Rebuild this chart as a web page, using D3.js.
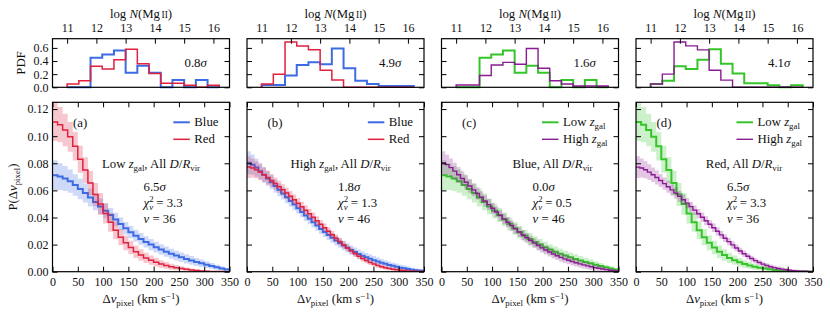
<!DOCTYPE html>
<html>
<head>
<meta charset="utf-8">
<script src="https://cdn.jsdelivr.net/npm/d3@7"></script>
<style>
  body { margin: 0; background: #fff; }
  text { font-family: 'Liberation Serif', 'DejaVu Serif', serif; font-size: 12.8px; fill: #111; }
  .tick text { font-size: 12px; }
</style>
</head>
<body>
<div class="container"></div>
<script>
/* log N(MgII) histograms (top row), bin edges + PDF values */
var logNEdges = [11.0, 11.4, 11.8, 12.2, 12.6, 13.0, 13.4, 13.8, 14.2, 14.6, 15.0, 15.4, 15.8, 16.2];
var pdfBlueLow = [0, 0, 0.45, 0.50, 0.56, 0.22, 0.33, 0.22, 0, 0.11, 0, 0.11, 0];
var pdfRedLow = [0.05, 0.10, 0.32, 0.28, 0.42, 0.58, 0.36, 0.21, 0.06, 0.06, 0.03, 0, 0.03];
var pdfBlueHigh = [0.035, 0.035, 0.18, 0.34, 0.38, 0.35, 0.59, 0.29, 0.10, 0.05, 0.02, 0.02, 0.02];
var pdfRedHigh = [0.05, 0.20, 0.69, 0.63, 0.57, 0.26, 0.11, 0, 0, 0, 0, 0, 0];

/* P(dv_pixel) (bottom row). low z: 10 km/s bins, high z: 7.5 km/s bins */
var binLow = 10, binHigh = 7.5;
var velBlueLow = [0.0712, 0.0703, 0.0688, 0.0668, 0.0640, 0.0610, 0.0580, 0.0548, 0.0515, 0.0482, 0.0450, 0.0418, 0.0385, 0.0352, 0.0320, 0.0292, 0.0266, 0.0242, 0.0220, 0.0200, 0.0181, 0.0164, 0.0148, 0.0133, 0.0119, 0.0106, 0.0094, 0.0083, 0.0072, 0.0062, 0.0052, 0.0042, 0.0033, 0.0024, 0.0016];
var errBlueLow = [0.0110, 0.0100, 0.0092, 0.0086, 0.0080, 0.0075, 0.0070, 0.0066, 0.0062, 0.0058, 0.0055, 0.0052, 0.0050, 0.0048, 0.0046, 0.0045, 0.0044, 0.0043, 0.0042, 0.0041, 0.0040, 0.0039, 0.0038, 0.0037, 0.0036, 0.0035, 0.0034, 0.0032, 0.0030, 0.0028, 0.0025, 0.0022, 0.0019, 0.0016, 0.0012];
var velRedLow = [0.1105, 0.1085, 0.1045, 0.0995, 0.0925, 0.0830, 0.0750, 0.0655, 0.0570, 0.0500, 0.0430, 0.0365, 0.0305, 0.0255, 0.0213, 0.0178, 0.0148, 0.0123, 0.0102, 0.0085, 0.0070, 0.0057, 0.0046, 0.0037, 0.0030, 0.0024, 0.0018, 0.0013, 0.0009, 0.0006, 0.0004, 0.0002, 0.0001, 0.0001, 0.0000];
var errRedLow = [0.0140, 0.0130, 0.0120, 0.0110, 0.0105, 0.0100, 0.0095, 0.0090, 0.0085, 0.0080, 0.0075, 0.0070, 0.0065, 0.0060, 0.0055, 0.0050, 0.0046, 0.0042, 0.0038, 0.0034, 0.0031, 0.0028, 0.0025, 0.0022, 0.0019, 0.0016, 0.0013, 0.0011, 0.0009, 0.0007, 0.0005, 0.0004, 0.0003, 0.0002, 0.0001];
var velBlueHigh = [0.0804, 0.0790, 0.0768, 0.0742, 0.0715, 0.0688, 0.0660, 0.0632, 0.0604, 0.0577, 0.0550, 0.0522, 0.0495, 0.0468, 0.0441, 0.0415, 0.0390, 0.0365, 0.0340, 0.0316, 0.0293, 0.0271, 0.0250, 0.0230, 0.0211, 0.0193, 0.0176, 0.0160, 0.0145, 0.0131, 0.0118, 0.0106, 0.0095, 0.0085, 0.0075, 0.0066, 0.0058, 0.0050, 0.0043, 0.0036, 0.0030, 0.0025, 0.0020, 0.0015, 0.0011, 0.0008, 0.0005];
var errBlueHigh = [0.0085, 0.0075, 0.0068, 0.0062, 0.0058, 0.0054, 0.0051, 0.0049, 0.0047, 0.0045, 0.0044, 0.0043, 0.0042, 0.0041, 0.0040, 0.0040, 0.0039, 0.0039, 0.0038, 0.0038, 0.0037, 0.0037, 0.0036, 0.0036, 0.0035, 0.0035, 0.0034, 0.0034, 0.0033, 0.0033, 0.0032, 0.0032, 0.0031, 0.0030, 0.0029, 0.0028, 0.0027, 0.0026, 0.0025, 0.0024, 0.0022, 0.0020, 0.0018, 0.0016, 0.0014, 0.0012, 0.0010];
var velRedHigh = [0.0772, 0.0765, 0.0752, 0.0735, 0.0715, 0.0695, 0.0673, 0.0650, 0.0627, 0.0604, 0.0580, 0.0556, 0.0531, 0.0506, 0.0480, 0.0454, 0.0428, 0.0402, 0.0376, 0.0350, 0.0324, 0.0298, 0.0272, 0.0247, 0.0222, 0.0198, 0.0175, 0.0153, 0.0133, 0.0114, 0.0097, 0.0082, 0.0068, 0.0056, 0.0046, 0.0037, 0.0030, 0.0024, 0.0019, 0.0015, 0.0011, 0.0008, 0.0006, 0.0004, 0.0003, 0.0002, 0.0001];
var errRedHigh = [0.0080, 0.0070, 0.0063, 0.0058, 0.0054, 0.0051, 0.0048, 0.0046, 0.0044, 0.0042, 0.0041, 0.0040, 0.0039, 0.0038, 0.0037, 0.0036, 0.0035, 0.0034, 0.0033, 0.0032, 0.0031, 0.0030, 0.0029, 0.0028, 0.0027, 0.0026, 0.0025, 0.0024, 0.0023, 0.0022, 0.0021, 0.0020, 0.0019, 0.0018, 0.0017, 0.0016, 0.0015, 0.0014, 0.0013, 0.0012, 0.0011, 0.0010, 0.0009, 0.0008, 0.0007, 0.0006, 0.0005];

/* tick values */
var logNTicks = [11, 12, 13, 14, 15, 16];
var pdfTicks = [0.0, 0.2, 0.4, 0.6];
var velTicks = [0, 50, 100, 150, 200, 250, 300, 350];
var probTicks = [0.00, 0.02, 0.04, 0.06, 0.08, 0.10, 0.12];

/* per-panel annotations */
var panelTags = ['(a)', '(b)', '(c)', '(d)'];
var histSigmas = ['0.8', '4.9', '1.6', '4.1'];
var ksSigmas = ['6.5', '1.8', '0.0', '6.5'];
var chi2Values = ['3.3', '1.3', '0.5', '3.3'];
var nuValues = ['36', '46', '46', '36'];

var colBlue = '#3d6be4', colRed = '#e0213f', colGreen = '#35c52b', colPurple = '#8a1b92';

var zgal = [['z', 'i'], ['gal', 'sub']];
var dRvir = [['D', 'i'], ['/'], ['R', 'i'], ['vir', 'sub']];

var panels = [
  { pdfs: [pdfBlueLow, pdfRedLow],
    curves: [[velBlueLow, errBlueLow, binLow], [velRedLow, errRedLow, binLow]],
    cols: [colBlue, colRed], widths: [2, 1.5],
    legend: [[['Blue']], [['Red']]],
    head: [['Low ']].concat(zgal, [[', All ']], dRvir), headX: 98.5 },
  { pdfs: [pdfBlueHigh, pdfRedHigh],
    curves: [[velBlueHigh, errBlueHigh, binHigh], [velRedHigh, errRedHigh, binHigh]],
    cols: [colBlue, colRed], widths: [2, 1.5],
    legend: [[['Blue']], [['Red']]],
    head: [['High ']].concat(zgal, [[', All ']], dRvir), headX: 93.5 },
  { pdfs: [pdfBlueLow, pdfBlueHigh],
    curves: [[velBlueLow, errBlueLow, binLow], [velBlueHigh, errBlueHigh, binHigh]],
    cols: [colGreen, colPurple], widths: [2, 1.4],
    legend: [[['Low ']].concat(zgal), [['High ']].concat(zgal)],
    head: [['Blue, All ']].concat(dRvir), headX: 111 },
  { pdfs: [pdfRedLow, pdfRedHigh],
    curves: [[velRedLow, errRedLow, binLow], [velRedHigh, errRedHigh, binHigh]],
    cols: [colGreen, colPurple], widths: [2, 1.4],
    legend: [[['Low ']].concat(zgal), [['High ']].concat(zgal)],
    head: [['Red, All ']].concat(dRvir), headX: 108 }
];

/* layout */
var w = 830, h = 314;
var left0 = 52.5, panelStep = 194.5, panelW = 177;
var topY0 = 38.7, topY1 = 87.3;
var botY0 = 102.3, botY1 = 271.7;

var svg = d3.select('.container')
  .append('svg')
  .attr('width', w)
  .attr('height', h);

/* text with italic / sub / sup pieces */
function rich(t, parts) {
  var shift = 0;
  parts.forEach(function(p) {
    var s = t.append('tspan').text(p[0]);
    var st = p[1] || '';
    var target = 0;
    if (st.indexOf('sub') >= 0) { target = 3; s.attr('font-size', 8.8); }
    if (st.indexOf('sup') >= 0) { target = -4.5; s.attr('font-size', 8.8); }
    if (st.indexOf('sc') >= 0) s.attr('font-size', 9.5);
    if (st.indexOf('i') >= 0) s.style('font-style', 'italic');
    if (target !== shift) { s.attr('dy', target - shift); shift = target; }
    if (p[2]) s.attr('dx', p[2]);
  });
  return t;
}

function cleanAxis(g) {
  g.select('.domain').remove();
  g.selectAll('.tick line').attr('stroke', '#000').attr('stroke-width', 1);
  g.attr('font-family', null).attr('font-size', null);
  g.selectAll('.tick text').attr('fill', '#111');
}

panels.forEach(function(p, k) {
  var x0 = left0 + k * panelStep, x1 = x0 + panelW;

  var xN = d3.scaleLinear().domain([10.5, 16.55]).range([x0, x1]);
  var yPdf = d3.scaleLinear().domain([0, 0.74]).range([topY1, topY0]);
  var xV = d3.scaleLinear().domain([0, 350]).range([x0, x1]);
  var yP = d3.scaleLinear().domain([0, 0.125]).range([botY1, botY0]);

  /* Top: log N histograms */
  var histLine = d3.line().curve(d3.curveStepAfter)
    .x(function(d) { return xN(d[0]); })
    .y(function(d) { return yPdf(d[1]); });

  p.pdfs.forEach(function(vals, j) {
    var pts = [[logNEdges[0], 0]];
    vals.forEach(function(v, i) { pts.push([logNEdges[i], v]); });
    pts.push([logNEdges[logNEdges.length - 1], 0]);
    svg.append('path')
      .attr('d', histLine(pts))
      .attr('fill', 'none')
      .attr('stroke', p.cols[j])
      .attr('stroke-width', p.widths[j]);
  });

  svg.append('g').attr('transform', 'translate(0,' + topY0 + ')')
    .call(d3.axisTop(xN).tickValues(logNTicks).tickSizeInner(-5).tickSizeOuter(0).tickPadding(6.5).tickFormat(d3.format('d')))
    .call(cleanAxis);
  svg.append('g').attr('transform', 'translate(' + x0 + ',0)')
    .call(d3.axisLeft(yPdf).tickValues(pdfTicks).tickSizeInner(-5).tickSizeOuter(0).tickPadding(4)
      .tickFormat(k === 0 ? d3.format('.1f') : ''))
    .call(cleanAxis);
  svg.append('g').attr('transform', 'translate(' + x1 + ',0)')
    .call(d3.axisRight(yPdf).tickValues(pdfTicks).tickSizeInner(-5).tickSizeOuter(0).tickFormat(''))
    .call(cleanAxis);

  svg.append('rect')
    .attr('x', x0).attr('y', topY0)
    .attr('width', panelW).attr('height', topY1 - topY0)
    .attr('fill', 'none').attr('stroke', '#000').attr('stroke-width', 1.2);

  rich(svg.append('text').attr('x', (x0 + x1) / 2).attr('y', 18).attr('text-anchor', 'middle'),
    [['log '], ['N', 'i'], ['(Mg'], ['II', 'sc', 1.5], [')']]);

  rich(svg.append('text').attr('x', x0 + 132).attr('y', 67.3),
    [[histSigmas[k]], ['σ', 'i']]);

  /* Bottom: velocity spread distributions */
  var clipId = 'clip' + k;
  svg.append('clipPath').attr('id', clipId)
    .append('rect')
    .attr('x', x0).attr('y', botY0)
    .attr('width', panelW).attr('height', botY1 - botY0);

  var plot = svg.append('g').attr('clip-path', 'url(#' + clipId + ')');

  var band = d3.area().curve(d3.curveStepAfter)
    .x(function(d) { return xV(d[0]); })
    .y0(function(d) { return yP(Math.max(0, d[1] - d[2])); })
    .y1(function(d) { return yP(d[1] + d[2]); });
  var step = d3.line().curve(d3.curveStepAfter)
    .x(function(d) { return xV(d[0]); })
    .y(function(d) { return yP(d[1]); });

  p.curves.forEach(function(c, j) {
    var vals = c[0], errs = c[1], bw = c[2];
    var pts = vals.map(function(v, i) { return [i * bw, v, errs[i]]; });
    pts.push([vals.length * bw, vals[vals.length - 1], errs[errs.length - 1]]);

    plot.append('path')
      .attr('d', band(pts))
      .attr('fill', p.cols[j])
      .attr('fill-opacity', 0.25)
      .attr('stroke', 'none');
    plot.append('path')
      .attr('d', step(pts))
      .attr('fill', 'none')
      .attr('stroke', p.cols[j])
      .attr('stroke-width', p.widths[j]);
  });

  svg.append('g').attr('transform', 'translate(0,' + botY1 + ')')
    .call(d3.axisBottom(xV).tickValues(velTicks).tickSizeInner(-5).tickSizeOuter(0).tickPadding(6).tickFormat(d3.format('d')))
    .call(cleanAxis);
  svg.append('g').attr('transform', 'translate(0,' + botY0 + ')')
    .call(d3.axisTop(xV).tickValues(velTicks).tickSizeInner(-5).tickSizeOuter(0).tickFormat(''))
    .call(cleanAxis);
  svg.append('g').attr('transform', 'translate(' + x0 + ',0)')
    .call(d3.axisLeft(yP).tickValues(probTicks).tickSizeInner(-5).tickSizeOuter(0).tickPadding(4)
      .tickFormat(k === 0 ? d3.format('.2f') : ''))
    .call(cleanAxis);
  svg.append('g').attr('transform', 'translate(' + x1 + ',0)')
    .call(d3.axisRight(yP).tickValues(probTicks).tickSizeInner(-5).tickSizeOuter(0).tickFormat(''))
    .call(cleanAxis);

  svg.append('rect')
    .attr('x', x0).attr('y', botY0)
    .attr('width', panelW).attr('height', botY1 - botY0)
    .attr('fill', 'none').attr('stroke', '#000').attr('stroke-width', 1.2);

  /* legend (upper right) */
  var legTexts = p.legend.map(function(parts, j) {
    return rich(svg.append('text').attr('y', botY0 + 20 + j * 17 + 4), parts);
  });
  var legW = d3.max(legTexts, function(t) { return t.node().getComputedTextLength(); });
  var legX = x1 - 11 - legW;
  legTexts.forEach(function(t, j) {
    var yy = botY0 + 20 + j * 17;
    t.attr('x', legX);
    svg.append('line')
      .attr('x1', legX - 21).attr('x2', legX - 4.5)
      .attr('y1', yy).attr('y2', yy)
      .attr('stroke', p.cols[j])
      .attr('stroke-width', p.widths[j]);
  });

  svg.append('text').attr('x', x0 + 20.5).attr('y', botY0 + 24.7).text(panelTags[k]);

  rich(svg.append('text').attr('x', x0 + p.headX).attr('y', botY0 + 65.7).attr('text-anchor', 'middle'), p.head);

  rich(svg.append('text').attr('x', x0 + 91).attr('y', botY0 + 88.4), [[ksSigmas[k]], ['σ', 'i']]);
  rich(svg.append('text').attr('x', x0 + 91).attr('y', botY0 + 104.4),
    [['χ', 'i'], ['2', 'sup'], ['ν', 'subi', -4.4], [' = ' + chi2Values[k]]]);
  rich(svg.append('text').attr('x', x0 + 91).attr('y', botY0 + 120.2), [['ν', 'i'], [' = ' + nuValues[k]]]);

  rich(svg.append('text').attr('x', (x0 + x1) / 2).attr('y', 303).attr('text-anchor', 'middle'),
    [['Δ'], ['v', 'i'], ['pixel', 'sub'], [' (km s'], ['−1', 'sup'], [')']]);
});

/* y-axis titles */
svg.append('text')
  .attr('transform', 'translate(25,63) rotate(-90)')
  .attr('text-anchor', 'middle')
  .text('PDF');

rich(svg.append('text')
  .attr('transform', 'translate(17,187) rotate(-90)')
  .attr('text-anchor', 'middle'),
  [['P(Δ'], ['v', 'i'], ['pixel', 'sub'], [')']]);
</script>
</body>
</html>
